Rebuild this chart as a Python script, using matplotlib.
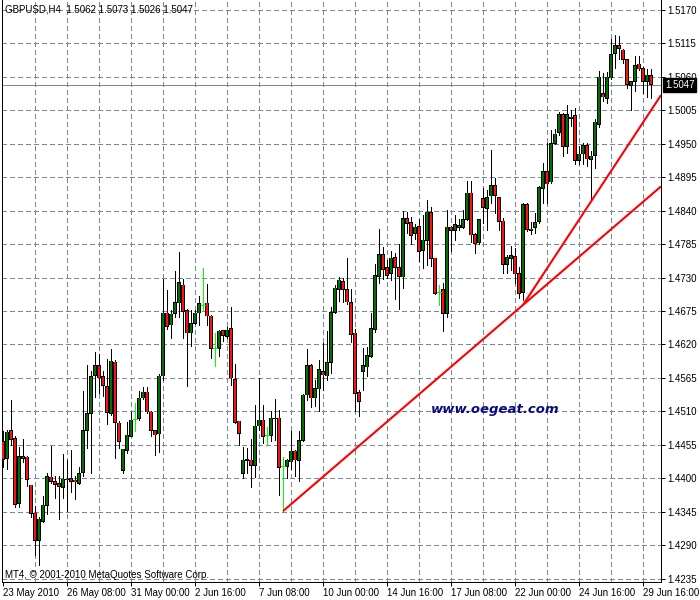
import matplotlib
matplotlib.use("Agg")
import matplotlib.pyplot as plt
import matplotlib.transforms as mtransforms
import numpy as np

plt.rcParams['font.family'] = ['Liberation Sans', 'DejaVu Sans']
plt.rcParams['lines.scale_dashes'] = False

# GBPUSD H4 bars (bar 0 = 23 May 2010)
opens = [
    1.4460, 1.4432, 1.4478, 1.4466, 1.4359, 1.4436, 1.4435, 1.4389, 1.4343, 1.4298,
    1.4329, 1.4355, 1.4402, 1.4395, 1.4391, 1.4385, 1.4397, 1.4400, 1.4397, 1.4392,
    1.4410, 1.4478, 1.4507, 1.4569, 1.4585, 1.4567, 1.4551, 1.4507, 1.4591, 1.4491,
    1.4413, 1.4446, 1.4469, 1.4497, 1.4498, 1.4532, 1.4542, 1.4509, 1.4478, 1.4473,
    1.4568, 1.4672, 1.4652, 1.4671, 1.4688, 1.4718, 1.4676, 1.4639, 1.4655, 1.4672,
    1.4685, 1.4688, 1.4667, 1.4614, 1.4614, 1.4643, 1.4633, 1.4646, 1.4563, 1.4494,
    1.4408, 1.4429, 1.4430, 1.4421, 1.4486, 1.4496, 1.4472, 1.4470, 1.4498, 1.4499,
    1.4420, 1.4420, 1.4427, 1.4445, 1.4429, 1.4462, 1.4537, 1.4585, 1.4532, 1.4547,
    1.4575, 1.4568, 1.4590, 1.4673, 1.4711, 1.4724, 1.4711, 1.4689, 1.4639, 1.4541,
    1.4575, 1.4583, 1.4600, 1.4645, 1.4732, 1.4768, 1.4746, 1.4737, 1.4763, 1.4746,
    1.4731, 1.4827, 1.4820, 1.4803, 1.4814, 1.4774, 1.4791, 1.4837, 1.4762, 1.4707,
    1.4711, 1.4671, 1.4813, 1.4807, 1.4816, 1.4812, 1.4826, 1.4869, 1.4801, 1.4788,
    1.4860, 1.4844, 1.4864, 1.4882, 1.4862, 1.4823, 1.4752, 1.4761, 1.4765, 1.4737,
    1.4705, 1.4850, 1.4810, 1.4812, 1.4822, 1.4876, 1.4905, 1.4887, 1.4951, 1.4969,
    1.4998, 1.4945, 1.4991, 1.4996, 1.4923, 1.4933, 1.4947, 1.4924, 1.4931, 1.4982,
    1.5033, 1.5025, 1.5058, 1.5098, 1.5111, 1.5104, 1.5089, 1.5046, 1.5053, 1.5081,
    1.5074, 1.5053, 1.5062,
]
highs = [
    1.4478, 1.4480, 1.4529, 1.4469, 1.4451, 1.4464, 1.4436, 1.4389, 1.4354, 1.4337,
    1.4371, 1.4408, 1.4453, 1.4403, 1.4404, 1.4440, 1.4430, 1.4447, 1.4403, 1.4418,
    1.4543, 1.4587, 1.4576, 1.4608, 1.4604, 1.4576, 1.4596, 1.4613, 1.4594, 1.4494,
    1.4448, 1.4493, 1.4509, 1.4523, 1.4543, 1.4550, 1.4550, 1.4511, 1.4480, 1.4572,
    1.4727, 1.4709, 1.4677, 1.4741, 1.4772, 1.4728, 1.4679, 1.4677, 1.4677, 1.4699,
    1.4745, 1.4719, 1.4668, 1.4639, 1.4644, 1.4644, 1.4648, 1.4682, 1.4588, 1.4495,
    1.4451, 1.4449, 1.4464, 1.4520, 1.4565, 1.4520, 1.4484, 1.4510, 1.4530, 1.4513,
    1.4435, 1.4431, 1.4478, 1.4447, 1.4477, 1.4539, 1.4612, 1.4588, 1.4562, 1.4595,
    1.4622, 1.4642, 1.4682, 1.4718, 1.4731, 1.4730, 1.4762, 1.4711, 1.4646, 1.4546,
    1.4614, 1.4616, 1.4671, 1.4753, 1.4810, 1.4781, 1.4759, 1.4773, 1.4771, 1.4785,
    1.4840, 1.4838, 1.4830, 1.4818, 1.4827, 1.4833, 1.4857, 1.4846, 1.4763, 1.4718,
    1.4721, 1.4841, 1.4815, 1.4833, 1.4826, 1.4841, 1.4889, 1.4888, 1.4803, 1.4827,
    1.4877, 1.4874, 1.4940, 1.4893, 1.4863, 1.4828, 1.4767, 1.4782, 1.4778, 1.4748,
    1.4853, 1.4853, 1.4821, 1.4836, 1.4881, 1.4918, 1.4951, 1.4973, 1.4974, 1.5003,
    1.5001, 1.5014, 1.5006, 1.5009, 1.4946, 1.4951, 1.4951, 1.4938, 1.4991, 1.5069,
    1.5067, 1.5068, 1.5122, 1.5129, 1.5127, 1.5106, 1.5090, 1.5053, 1.5094, 1.5094,
    1.5077, 1.5073, 1.5073,
]
lows = [
    1.4418, 1.4415, 1.4454, 1.4352, 1.4352, 1.4426, 1.4388, 1.4337, 1.4274, 1.4258,
    1.4328, 1.4342, 1.4392, 1.4367, 1.4333, 1.4367, 1.4346, 1.4378, 1.4366, 1.4391,
    1.4403, 1.4449, 1.4408, 1.4533, 1.4540, 1.4535, 1.4490, 1.4504, 1.4434, 1.4450,
    1.4408, 1.4442, 1.4469, 1.4477, 1.4496, 1.4531, 1.4507, 1.4469, 1.4438, 1.4444,
    1.4561, 1.4646, 1.4631, 1.4665, 1.4665, 1.4631, 1.4551, 1.4617, 1.4653, 1.4652,
    1.4675, 1.4652, 1.4598, 1.4584, 1.4601, 1.4625, 1.4631, 1.4553, 1.4491, 1.4454,
    1.4400, 1.4408, 1.4385, 1.4402, 1.4480, 1.4458, 1.4457, 1.4461, 1.4463, 1.4373,
    1.4346, 1.4400, 1.4416, 1.4403, 1.4395, 1.4461, 1.4529, 1.4518, 1.4519, 1.4510,
    1.4546, 1.4561, 1.4573, 1.4671, 1.4691, 1.4690, 1.4687, 1.4624, 1.4511, 1.4502,
    1.4545, 1.4569, 1.4599, 1.4641, 1.4721, 1.4727, 1.4729, 1.4726, 1.4695, 1.4679,
    1.4713, 1.4803, 1.4786, 1.4794, 1.4757, 1.4746, 1.4751, 1.4749, 1.4703, 1.4685,
    1.4642, 1.4666, 1.4773, 1.4791, 1.4808, 1.4811, 1.4825, 1.4789, 1.4771, 1.4786,
    1.4819, 1.4808, 1.4853, 1.4837, 1.4809, 1.4737, 1.4738, 1.4743, 1.4721, 1.4696,
    1.4693, 1.4807, 1.4802, 1.4803, 1.4820, 1.4853, 1.4853, 1.4885, 1.4950, 1.4965,
    1.4930, 1.4935, 1.4979, 1.4916, 1.4917, 1.4917, 1.4913, 1.4858, 1.4911, 1.4977,
    1.5020, 1.5017, 1.5057, 1.5075, 1.5090, 1.5082, 1.5042, 1.5006, 1.5036, 1.5071,
    1.5034, 1.5027, 1.5026,
]
closes = [
    1.4431, 1.4476, 1.4464, 1.4357, 1.4436, 1.4432, 1.4398, 1.4342, 1.4298, 1.4333,
    1.4356, 1.4403, 1.4395, 1.4390, 1.4387, 1.4399, 1.4399, 1.4395, 1.4394, 1.4408,
    1.4478, 1.4506, 1.4567, 1.4586, 1.4565, 1.4552, 1.4508, 1.4593, 1.4492, 1.4461,
    1.4448, 1.4471, 1.4496, 1.4497, 1.4532, 1.4542, 1.4509, 1.4478, 1.4471, 1.4568,
    1.4672, 1.4650, 1.4670, 1.4689, 1.4722, 1.4674, 1.4639, 1.4654, 1.4672, 1.4687,
    1.4685, 1.4667, 1.4613, 1.4614, 1.4642, 1.4635, 1.4644, 1.4565, 1.4492, 1.4474,
    1.4430, 1.4431, 1.4421, 1.4486, 1.4496, 1.4469, 1.4472, 1.4499, 1.4499, 1.4418,
    1.4420, 1.4430, 1.4445, 1.4430, 1.4462, 1.4537, 1.4585, 1.4532, 1.4548, 1.4579,
    1.4570, 1.4590, 1.4673, 1.4713, 1.4726, 1.4711, 1.4690, 1.4636, 1.4540, 1.4526,
    1.4586, 1.4602, 1.4646, 1.4734, 1.4768, 1.4743, 1.4733, 1.4762, 1.4747, 1.4732,
    1.4827, 1.4819, 1.4799, 1.4813, 1.4773, 1.4792, 1.4838, 1.4761, 1.4704, 1.4707,
    1.4671, 1.4813, 1.4807, 1.4817, 1.4812, 1.4826, 1.4869, 1.4800, 1.4786, 1.4825,
    1.4845, 1.4862, 1.4881, 1.4865, 1.4822, 1.4752, 1.4763, 1.4766, 1.4736, 1.4704,
    1.4850, 1.4809, 1.4808, 1.4821, 1.4878, 1.4905, 1.4884, 1.4951, 1.4966, 1.4998,
    1.4946, 1.4998, 1.4994, 1.4923, 1.4933, 1.4947, 1.4925, 1.4930, 1.4986, 1.5060,
    1.5027, 1.5060, 1.5097, 1.5112, 1.5107, 1.5089, 1.5047, 1.5052, 1.5079, 1.5073,
    1.5053, 1.5063, 1.5047,
]

date_ticks = [0, 16, 32, 48, 64, 80, 96, 112, 128, 144, 160]
date_labels = ["23 May 2010", "26 May 08:00", "31 May 00:00", "2 Jun 16:00",
               "7 Jun 08:00", "10 Jun 00:00", "14 Jun 16:00", "17 Jun 08:00",
               "22 Jun 00:00", "24 Jun 16:00", "29 Jun 16:00"]
grid_bars = list(range(8, 161, 8))
price_ticks = [1.4235, 1.4290, 1.4345, 1.4400, 1.4455, 1.4510, 1.4565, 1.4620,
               1.4675, 1.4730, 1.4785, 1.4840, 1.4895, 1.4950, 1.5005, 1.5060,
               1.5115, 1.5170]

# two trend lines drawn on the chart (anchor bar, price), extended to the right
trend_slow_x = [70, 130]
trend_slow_y = [1.4346, 1.4685]
trend_fast_x = [130, 150]
trend_fast_y = [1.4685, 1.4885]

GRID = "#778899"
BULL = "#007000"
BEAR = "#ff1010"
DOJI = "#00ff00"
PX = 0.72  # one pixel in points at dpi 100

W, H = 700, 600
fig = plt.figure(figsize=(W / 100, H / 100), dpi=100)
ax = fig.add_axes([2 / W, 18 / H, 659 / W, 582 / H])
x_left, x_right = -0.25, 164.5
ax.set_xlim(x_left, x_right)
ax.set_ylim(1.42295, 1.51864)

# grid
for g in grid_bars:
    ax.axvline(g, color=GRID, lw=PX, dashes=(2.9, 2.2), zorder=0, antialiased=False)
for p in price_ticks:
    ax.axhline(p, color=GRID, lw=PX, dashes=(2.9, 2.2), zorder=0, antialiased=False)
ax.axhline(closes[-1], color=GRID, lw=PX, zorder=0.5, antialiased=False)

o = np.array(opens)
h = np.array(highs)
l = np.array(lows)
c = np.array(closes)
x = np.arange(len(o))
up = c > o
down = c < o
flat = c == o

ax.vlines(x[~flat], l[~flat], h[~flat], color="black", lw=PX, zorder=2, antialiased=False)
# black body of 3 px with a 1 px coloured core
for mask, col, lo in [(up, BULL, o), (down, BEAR, c)]:
    hgt = np.abs(c - o)[mask]
    ax.bar(x[mask], hgt + 0.00012, bottom=lo[mask] - 0.00006, width=0.8, color="black",
           linewidth=0, zorder=3)
    ax.bar(x[mask], np.maximum(hgt - 0.00012, 0), bottom=lo[mask] + 0.00006, width=0.3,
           color=col, linewidth=0, zorder=3.5)
ax.vlines(x[flat], l[flat], h[flat], color=DOJI, lw=PX, zorder=3, antialiased=False)
ax.hlines(c[flat], x[flat] - 0.4, x[flat] + 0.4, color=DOJI, lw=PX, zorder=3, antialiased=False)

# trend lines
for tx, ty in [(trend_slow_x, trend_slow_y), (trend_fast_x, trend_fast_y)]:
    slope = (ty[1] - ty[0]) / (tx[1] - tx[0])
    ax.plot([tx[0], x_right], [ty[0], ty[0] + slope * (x_right - tx[0])],
            color="#ff0000", lw=1.5, zorder=4, solid_capstyle="butt")

# axes styling
for side in ["left", "right", "bottom"]:
    ax.spines[side].set_color("black")
    ax.spines[side].set_linewidth(PX)
ax.spines["top"].set_visible(False)

ax.yaxis.tick_right()
ax.set_yticks(price_ticks)
ax.set_yticklabels([f"{p:.4f}" for p in price_ticks])
ax.set_xticks(date_ticks)
ax.set_xticklabels(date_labels)
for lbl in ax.get_xticklabels():
    lbl.set_horizontalalignment("left")
ax.tick_params(axis="both", direction="out", length=2.9, width=PX, labelsize=7,
               colors="black", pad=1.5)

# texts
ax.text(3 / 659, 1 - 10 / 582, "GBPUSD,H4  1.5062 1.5073 1.5026 1.5047",
        transform=ax.transAxes, fontsize=7, va="center", ha="left")
ax.text(3 / 659, 1 - 575 / 582, "MT4, \u00a9 2001-2010 MetaQuotes Software Corp.",
        transform=ax.transAxes, fontsize=7, va="center", ha="left")
ax.text(0.749, 1 - 410 / 582, "www.oegeat.com", transform=ax.transAxes,
        fontsize=9.5, fontweight="bold", fontstyle="italic", color="#0a0a80",
        va="center", ha="center", family="DejaVu Sans")

trans = mtransforms.blended_transform_factory(ax.transAxes, ax.transData)
ax.text(1 + 4 / 659, closes[-1], f"{closes[-1]:.4f}", transform=trans, color="white",
        fontsize=7, va="center", ha="left", zorder=10, clip_on=False,
        bbox=dict(boxstyle="square,pad=0.2", fc="black", ec="black"))

fig.savefig("out.png", dpi=100)
